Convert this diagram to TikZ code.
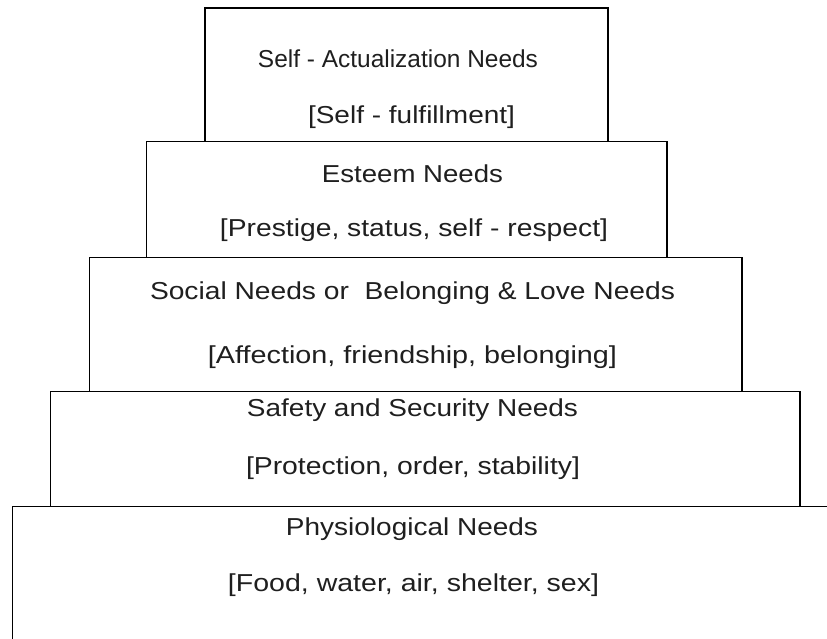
\documentclass[tikz,border=0pt]{standalone}
\usepackage{fontspec}
\setmainfont{Liberation Sans}
% stretch a line of text horizontally to a given width, keeping its height
\newcommand\stretchto[2]{\resizebox{#1}{\height}{#2}}
\begin{document}
\begin{tikzpicture}[x=1pt,y=-1pt,
  level/.style={draw=black,line width=1.2pt},
  caption/.style={anchor=base,inner sep=0pt,font=\fontsize{24.5}{29}\selectfont,text=black!88}]
\useasboundingbox (0,0) rectangle (827,638);

% the five stacked levels, widest at the bottom
\begin{scope}
  \clip (0,0) rectangle (827,638);
  \draw[level] (12.5,506.7) rectangle (880,700);
\end{scope}
\draw[level] (50.5,391.7) rectangle (800,506.7);
\draw[level] (89.3,257.7) rectangle (742,391.7);
\draw[level] (146.5,141.5) rectangle (667,257.7);
\draw[level] (205,8) rectangle (608,141.5);

% level captions
\node[caption] (selfT) at (398,67)    {\stretchto{280pt}{Self - Actualization Needs}};
\node[caption] (selfS) at (411.5,123) {\stretchto{207pt}{[Self - fulfillment]}};

\node[caption] (estT) at (412.5,182) {\stretchto{181pt}{Esteem Needs}};
\node[caption] (estS) at (414,236)   {\stretchto{388pt}{[Prestige, status, self - respect]}};

\node[caption] (socT) at (412.5,299) {\stretchto{525pt}{Social Needs or~ Belonging \& Love Needs}};
\node[caption] (socS) at (412.5,363) {\stretchto{409pt}{[Affection, friendship, belonging]}};

\node[caption] (safT) at (412.5,416) {\stretchto{331pt}{Safety and Security Needs}};
\node[caption] (safS) at (413,474)   {\stretchto{334pt}{[Protection, order, stability]}};

\node[caption] (phyT) at (412,535)   {\stretchto{252pt}{Physiological Needs}};
\node[caption] (phyS) at (413.5,591) {\stretchto{371pt}{[Food, water, air, shelter, sex]}};
\end{tikzpicture}
\end{document}
